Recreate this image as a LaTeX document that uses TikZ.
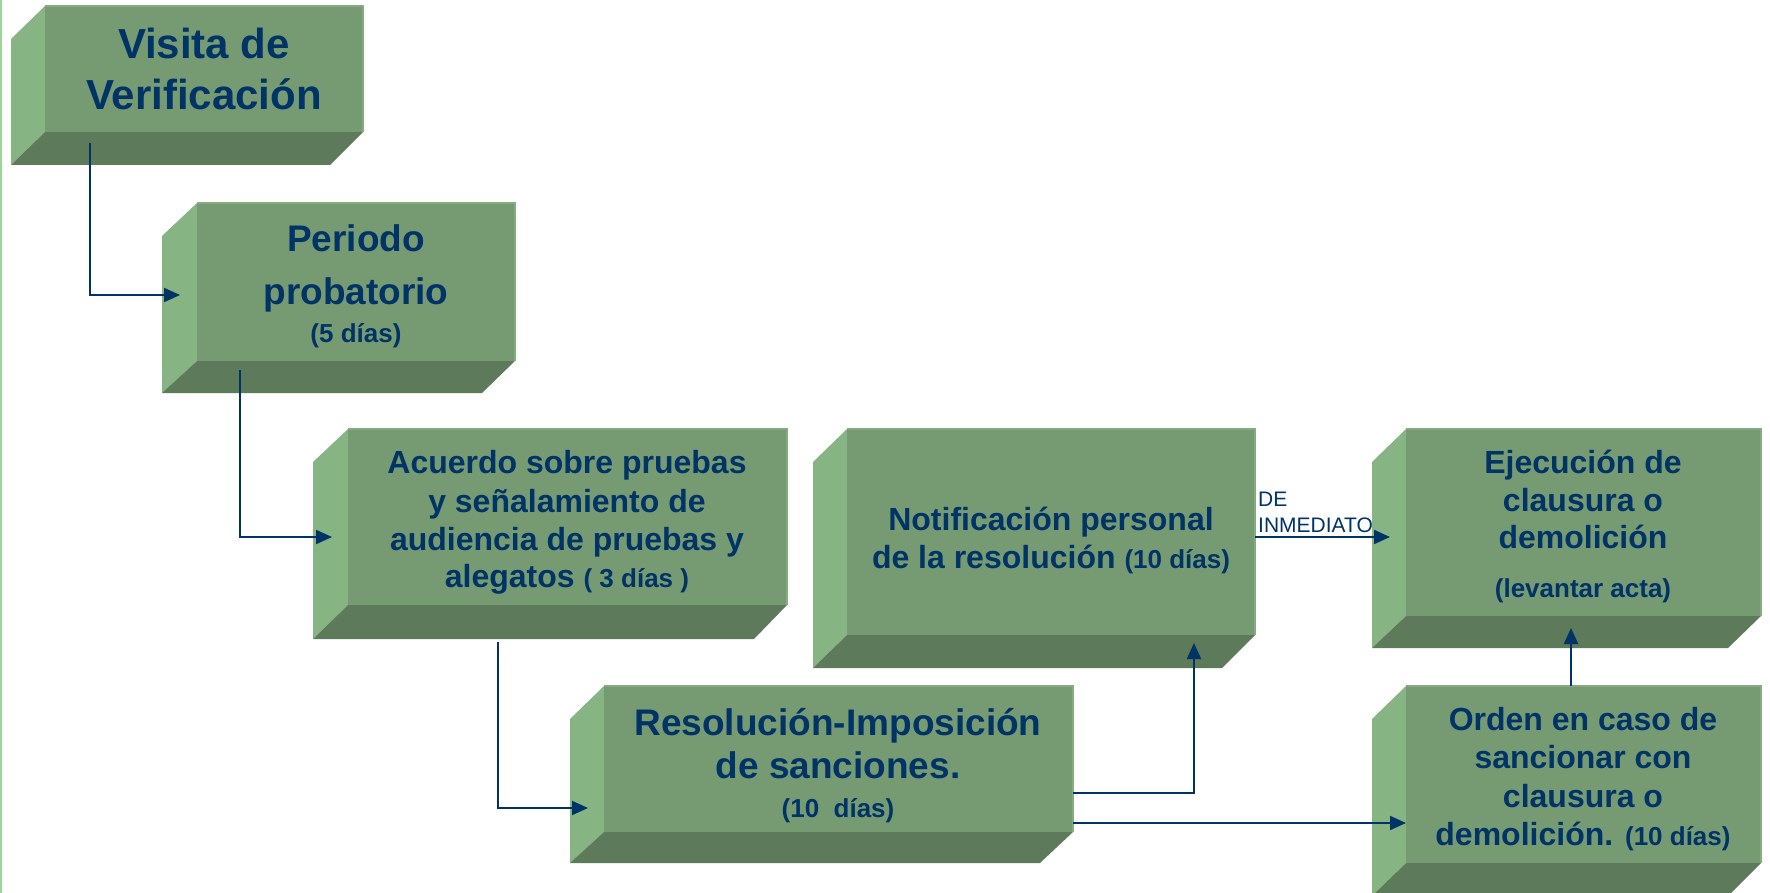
\documentclass[tikz,border=0pt]{standalone}
\usepackage{fontspec}
\setmainfont{Liberation Sans}
\usetikzlibrary{arrows.meta}
\definecolor{frontg}{HTML}{769B73}
\definecolor{sideg}{HTML}{86B483}
\definecolor{bottomg}{HTML}{5D7A5A}
\definecolor{edgefront}{HTML}{86AB83}
\definecolor{navy}{HTML}{003366}
\definecolor{edgeg}{HTML}{9CD49A}
\newcommand\fsz[1]{\fontsize{#1}{#1}\selectfont}
% L F T R S B
\newcommand\greenprism[6]{%
  \fill[sideg] (#1,#3+33) -- (#2,#3) -- (#2,#5) -- (#1,#6) -- cycle;
  \fill[bottomg] (#1,#6) -- (#2,#5) -- (#4,#5) -- (#4-33,#6) -- cycle;
  \fill[frontg] (#2,#3) rectangle (#4,#5);
  \draw[edgefront, line width=1.5pt] (#2,#3) -- (#4,#3) -- (#4,#5);
}
\tikzset{
  txt/.style={text=navy, font=\bfseries, inner sep=0pt, anchor=base},
  lbl/.style={text=navy, inner sep=0pt, anchor=base west},
  conn/.style={draw=navy, line width=2pt},
  arr/.style={conn, -{Triangle[length=16pt,width=14pt]}}
}
\begin{document}
\begin{tikzpicture}[x=1pt, y=-1pt]
\useasboundingbox (0,0) rectangle (1770,893);
\clip (0,0) rectangle (1770,893);
\fill[white] (0,0) rectangle (1770,893);
\fill[edgeg] (0,0) rectangle (1.6,893);

% boxes
\greenprism{11}{45}{6}{363}{132}{165}
\greenprism{162}{197}{203}{515}{361}{393}
\greenprism{313}{348}{429}{787}{605}{639}
\greenprism{813}{847}{429}{1255}{635}{668}
\greenprism{1372}{1406}{429}{1761}{616}{648}
\greenprism{570}{604}{686}{1073}{832}{863}
\greenprism{1372}{1406}{686}{1761}{863}{896}

% texts
\node[txt] (b1a) at (204,59) {\fsz{42}Visita de};
\node[txt] (b1b) at (204,110) {\fsz{42}Verificación};

\node[txt] (b2a) at (356,252) {\fsz{37}Periodo};
\node[txt] (b2b) at (356,305) {\fsz{37}probatorio};
\node[txt] (b2c) at (356,343) {\fsz{26}(5 días)};

\node[txt] (b3a) at (567,473) {\fsz{32}Acuerdo sobre pruebas};
\node[txt] (b3b) at (567,512) {\fsz{32}y señalamiento de};
\node[txt] (b3c) at (567,550) {\fsz{32}audiencia de pruebas y};
\node[txt] (b3d) at (567,587) {\fsz{32}alegatos \fsz{26}( 3 días )};

\node[txt] (b4a) at (1051,530) {\fsz{32}Notificación personal};
\node[txt] (b4b) at (1051,568) {\fsz{32}de la resolución \fsz{26}(10 días)};

\node[txt] (b5a) at (1583,473) {\fsz{32}Ejecución de};
\node[txt] (b5b) at (1583,511) {\fsz{32}clausura o};
\node[txt] (b5c) at (1583,548) {\fsz{32}demolición};
\node[txt] (b5d) at (1583,597) {\fsz{26}(levantar acta)};

\node[txt] (b6a) at (838,735) {\fsz{37}Resolución-Imposición};
\node[txt] (b6b) at (838,778) {\fsz{37}de sanciones.};
\node[txt] (b6c) at (838,817) {\fsz{26}(10\ \ días)};

\node[txt] (b7a) at (1583,730) {\fsz{32}Orden en caso de};
\node[txt] (b7b) at (1583,768) {\fsz{32}sancionar con};
\node[txt] (b7c) at (1583,807) {\fsz{32}clausura o};
\node[txt] (b7d) at (1583,845) {\fsz{32}demolición. \fsz{26}(10 días)};

\node[lbl] (la) at (1258,506) {\fsz{21}DE};
\node[lbl] (lb) at (1258,532) {\fsz{21}INMEDIATO};

% connector end points
\coordinate (s1) at (90,143);   \coordinate (e1) at (180,295);
\coordinate (s2) at (240,370);  \coordinate (e2) at (332,537);
\coordinate (s3) at (498,642);  \coordinate (e3) at (588,808);
\coordinate (s4) at (1073,793); \coordinate (e4) at (1194,643);
\coordinate (s5) at (1073,823); \coordinate (e5) at (1406,823);
\coordinate (s6) at (1255,537); \coordinate (e6) at (1390,537);
\coordinate (s7) at (1571,686); \coordinate (e7) at (1571,628);

\draw[arr] (s1) |- (e1);
\draw[arr] (s2) |- (e2);
\draw[arr] (s3) |- (e3);
\draw[arr] (s4) -| (e4);
\draw[arr] (s5) -- (e5);
\draw[arr] (s6) -- (e6);
\draw[arr] (s7) -- (e7);
\end{tikzpicture}
\end{document}
